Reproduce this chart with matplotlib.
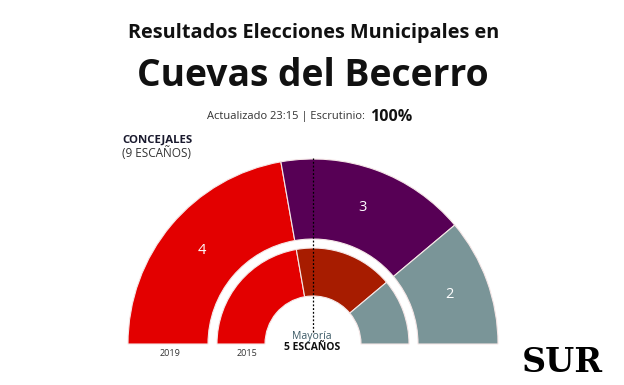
import numpy as np
import matplotlib
matplotlib.use('Agg')
import matplotlib.pyplot as plt
from matplotlib.patches import Wedge

# seats per party, in drawing order (left to right)
seats_2019 = [4, 3, 2]
colors_2019 = ['#E30000', '#570055', '#7A9598']
seats_2015 = [4, 3, 2]
colors_2015 = ['#E30000', '#A71C00', '#7A9598']
total_seats = 9
majority = 5
years = ['2019', '2015']

W, H = 624, 385
fig = plt.figure(figsize=(W / 100, H / 100), dpi=100)
ax = fig.add_axes([0, 0, 1, 1])
ax.set_xlim(0, W)
ax.set_ylim(0, H)
ax.axis('off')

font = 'Open Sans'
cx, cy = 313, H - 344


def ring(seats, colors, r_out, width, labels=False):
    start = 180.0
    for s, c in zip(seats, colors):
        end = start - 180.0 * s / total_seats
        ax.add_patch(Wedge((cx, cy), r_out, end, start, width=width,
                           facecolor=c, edgecolor='#F5E6E6', linewidth=0.8))
        if labels:
            mid = np.radians((start + end) / 2)
            rl = r_out - width / 2
            ax.text(cx + rl * np.cos(mid), cy + rl * np.sin(mid), str(s),
                    color='white', fontsize=10.5, family=font,
                    ha='center', va='center')
        start = end


ring(seats_2019, colors_2019, 185, 80, labels=True)
ring(seats_2015, colors_2015, 96, 48)

# majority line
ax.plot([cx, cx], [cy + 12, H - 158], color='black', linestyle=(0, (1.5, 1.5)),
        linewidth=0.9)

ax.text(312, H - 337, 'Mayoría', ha='center', va='center', fontsize=7.5,
        color='#3C5A66', family=font)
ax.text(312, H - 348, '%d ESCAÑOS' % majority, ha='center', va='center',
        fontsize=7.5, fontweight='bold', color='#111111', family=font)

ax.text(170, H - 353, years[0], ha='center', va='center', fontsize=6.5,
        color='#333333', family=font)
ax.text(247, H - 353, years[1], ha='center', va='center', fontsize=6.5,
        color='#333333', family=font)

# titles
ax.text(314, H - 33, 'Resultados Elecciones Municipales en', ha='center',
        va='center', fontsize=14.3, fontweight='bold', color='#111111',
        family=font)
ax.text(313, H - 76, 'Cuevas del Becerro', ha='center', va='center',
        fontsize=26.8, fontweight='bold', color='#111111', family=font)
ax.text(368, H - 117, 'Actualizado 23:15 | Escrutinio: ', ha='right',
        va='center', fontsize=8, color='#333333', family=font)
ax.text(370, H - 117, '100%', ha='left', va='center', fontsize=11.5,
        fontweight='bold', color='#111111', family=font)

ax.text(122, H - 140, 'CONCEJALES', ha='left', va='center', fontsize=8.2,
        fontweight='bold', color='#1a1a2e', family=font)
ax.text(122, H - 153, '(%d ESCAÑOS)' % total_seats, ha='left', va='center',
        fontsize=8.5, color='#333333', family=font)

ax.text(562, H - 362, 'SUR', ha='center', va='center', fontsize=24,
        fontweight='bold', color='black', family='DejaVu Serif')

fig.savefig('out.png', dpi=100, facecolor='white')
